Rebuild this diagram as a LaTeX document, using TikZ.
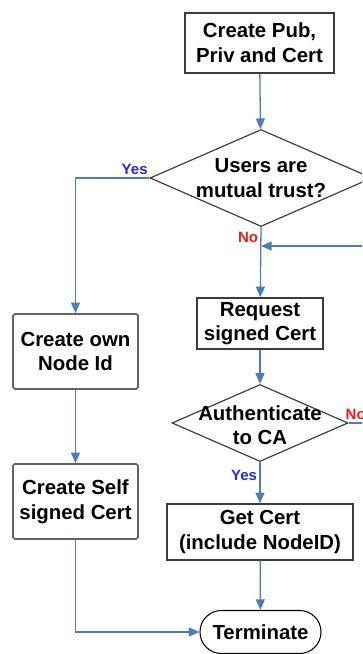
\documentclass[tikz,border=0pt]{standalone}
\usepackage{fontspec}
\setmainfont{Liberation Sans}
\usetikzlibrary{shapes.geometric,arrows.meta,positioning}
\definecolor{flow}{RGB}{74,126,187}
\definecolor{yesblue}{RGB}{40,40,235}
\definecolor{nored}{RGB}{235,30,30}
\definecolor{edge}{RGB}{60,60,60}

\begin{document}
\begin{tikzpicture}[
  x=0.03cm,y=-0.03cm,
  font=\fontsize{17.4}{21}\selectfont\bfseries,
  task/.style={draw=edge,line width=1.2pt,minimum width=#1,align=center,inner sep=0pt},
  soft/.style={draw=edge!80,line width=1.3pt,rounded corners=1.5pt,minimum width=3.75cm,minimum height=2.25cm,align=center,inner sep=0pt},
  decision/.style={diamond,draw=edge,line width=1pt,inner sep=0pt},
  term/.style={draw=black,line width=0.9pt,rounded corners=0.64cm,minimum width=3.63cm,minimum height=1.29cm,inner sep=0pt},
  arr/.style={-{Triangle[length=0.32cm,width=0.27cm]},draw=flow,line width=1.1pt},
  yes/.style={font=\fontsize{12.8}{14}\selectfont\bfseries,text=yesblue,inner sep=1pt},
  no/.style={font=\fontsize{12.8}{14}\selectfont\bfseries,text=nored,inner sep=1pt},
]
\useasboundingbox (0,0) rectangle (362,654);
\clip (0,0) rectangle (362,654);

% rechte Spalte
\node[task=4.47cm,minimum height=1.8cm] (keys) at (259.5,43) {Create Pub,\\Priv and Cert};
\node[decision,minimum width=6.66cm,minimum height=2.91cm,
      label={[align=center]center:{Users are\\mutual trust?}}] (trust) at (261,178) {};
\node[task=3.78cm,minimum height=1.53cm] (request) at (260,323.5) {Request\\signed Cert};
\node[decision,minimum width=5.28cm,minimum height=2.31cm,
      label={[align=center,yshift=-2pt]center:{Authenticate\\to CA}}] (auth) at (260,423) {};
\node[task=5.58cm,minimum height=1.68cm] (getcert) at (260,532) {Get Cert\\(include NodeID)};
\node[term] (stop) at (260.5,632) {Terminate};

% linke Spalte
\node[soft] (ownid) at (75.5,351.5) {Create own\\Node Id};
\node[soft] (selfcert) at (75.5,501.5) {Create Self\\signed Cert};

% Rueckfuehrung (rechts abgeschnitten)
\coordinate (back) at (380,246);
\coordinate (merge) at (261,246);

% Kanten
\draw[arr] (keys) -- (trust);
\draw[arr] (trust.west) node[yes,above left=1pt and 0pt] {Yes} -| (ownid.north);
\draw[arr] (trust.south) node[no,below left=3pt and 1pt] {No} -- (request);
\draw[arr] (request) -- (auth);
\draw[arr] (auth.south) node[yes,below left=5pt and 1pt] {Yes} -- (getcert);
\draw[arr] (getcert) -- (stop);
\draw[arr] (auth.east) node[no,above right=1pt and -4pt] {No} -| (back) -- (merge);

\draw[arr] (ownid) -- (selfcert);
\draw[arr] (selfcert.south) |- (stop.west);

\end{tikzpicture}
\end{document}
